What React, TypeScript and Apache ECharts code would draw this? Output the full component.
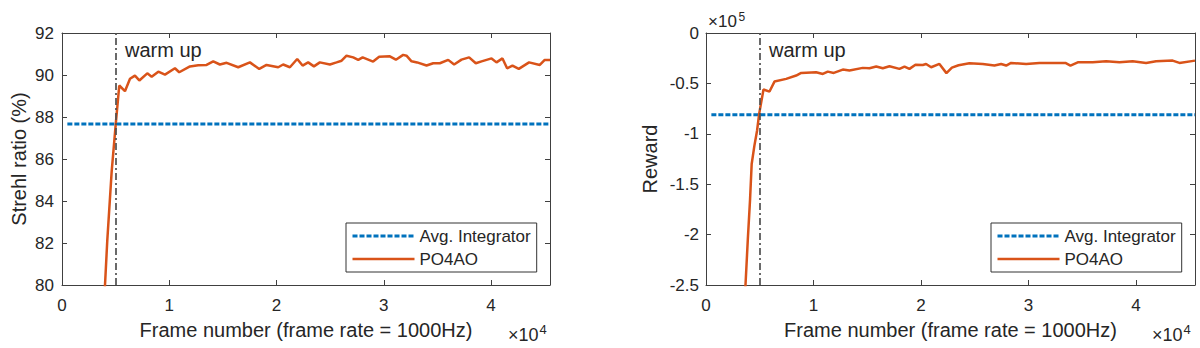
import React, { useEffect, useRef } from 'react';
import * as echarts from 'echarts';

// ---- data ----
const strehlFrames = [3700, 4010, 4220, 4630, 5000, 5340, 5870, 6340, 6800, 7210, 7950, 8360, 8980, 9600, 10530, 10930, 11930, 12700, 13480, 14100, 14720, 15350, 16430, 17520, 18390, 19070, 20160, 20620, 21250, 21930, 22430, 22950, 23490, 24040, 24980, 25600, 26070, 26530, 27150, 27620, 28030, 29010, 29570, 30570, 31130, 31810, 32120, 32590, 33110, 33990, 34610, 35230, 36010, 36560, 37250, 37960, 38580, 39120, 40050, 40510, 41070, 41500, 42000, 42590, 43550, 44550, 45010, 45500];
const strehlValues = [77.5, 80, 82.1, 85.4, 87.6, 89.5, 89.23, 89.82, 89.97, 89.74, 90.08, 89.92, 90.16, 90.02, 90.32, 90.13, 90.41, 90.46, 90.48, 90.65, 90.5, 90.58, 90.37, 90.6, 90.29, 90.48, 90.37, 90.5, 90.37, 90.76, 90.45, 90.6, 90.41, 90.6, 90.5, 90.6, 90.68, 90.92, 90.84, 90.72, 90.84, 90.64, 90.87, 90.89, 90.73, 90.96, 90.92, 90.65, 90.6, 90.45, 90.56, 90.56, 90.72, 90.5, 90.73, 90.84, 90.56, 90.65, 90.79, 90.6, 90.79, 90.32, 90.45, 90.29, 90.6, 90.48, 90.72, 90.72];

// reward values in units of 1e5
const rewardFrames = [3400, 3675, 3890, 4100, 4250, 4500, 4750, 4950, 5350, 5910, 6370, 7460, 8390, 8860, 10250, 10870, 11330, 11890, 12730, 13350, 14590, 15210, 15840, 16450, 17070, 18000, 18470, 18930, 19490, 20170, 20480, 20950, 21720, 22370, 22880, 23500, 24510, 25750, 26840, 27460, 27930, 28390, 29790, 31020, 32260, 33440, 33910, 34590, 35980, 37230, 38470, 39700, 40950, 41880, 43420, 44050, 45500];
const rewardValues = [-3.1, -2.5, -2.05, -1.65, -1.3, -1.12, -0.97, -0.8, -0.56, -0.581, -0.482, -0.455, -0.422, -0.396, -0.39, -0.406, -0.383, -0.396, -0.363, -0.373, -0.346, -0.35, -0.333, -0.35, -0.33, -0.356, -0.333, -0.356, -0.314, -0.317, -0.307, -0.34, -0.307, -0.398, -0.343, -0.32, -0.3, -0.307, -0.323, -0.307, -0.323, -0.297, -0.307, -0.297, -0.297, -0.297, -0.323, -0.291, -0.291, -0.281, -0.291, -0.281, -0.297, -0.281, -0.274, -0.297, -0.274];

const integratorFrames = [500, 45500];
const integratorStrehl = 87.67;
const integratorReward = -0.81;
const warmupFrame = 5000;
const frameMax = 45500;
const seriesNames = ['Avg. Integrator', 'PO4AO'];

const FONT = 'Liberation Sans, Arial, Helvetica, sans-serif';
const TEXT = '#262626';
const AXIS = '#404040';
const BLUE = '#0072BD';
const ORANGE = '#D95319';

function xAxes(gridIndex: number) {
  const common = {
    gridIndex,
    type: 'value' as const,
    min: 0,
    max: frameMax,
    interval: 10000,
    splitLine: { show: false },
    axisLine: { show: true, onZero: false, lineStyle: { color: AXIS, width: 1 } },
    axisTick: { show: true, inside: true, length: 5, lineStyle: { color: AXIS } },
  };
  return [
    {
      ...common,
      position: 'bottom',
      axisLabel: {
        fontSize: 17,
        color: TEXT,
        fontFamily: FONT,
        margin: 12,
        formatter: (v: number) => (v % 10000 === 0 ? String(v / 10000) : ''),
      },
      name: 'Frame number (frame rate = 1000Hz)',
      nameLocation: 'middle',
      nameGap: 35,
      nameTextStyle: { fontSize: 20, color: TEXT, fontFamily: FONT },
    },
    { ...common, position: 'top', axisLabel: { show: false } },
  ];
}

function yAxes(gridIndex: number, min: number, max: number, interval: number, name: string, nameGap: number, margin: number) {
  const common = {
    gridIndex,
    type: 'value' as const,
    min,
    max,
    interval,
    splitLine: { show: false },
    axisLine: { show: true, onZero: false, lineStyle: { color: AXIS, width: 1 } },
    axisTick: { show: true, inside: true, length: 5, lineStyle: { color: AXIS } },
  };
  return [
    {
      ...common,
      position: 'left',
      axisLabel: { fontSize: 17, color: TEXT, fontFamily: FONT, margin, formatter: (v: number) => String(v) },
      name,
      nameLocation: 'middle',
      nameGap,
      nameTextStyle: { fontSize: 20, color: TEXT, fontFamily: FONT },
    },
    { ...common, position: 'right', axisLabel: { show: false } },
  ];
}

function legend(left: number) {
  return {
    data: seriesNames,
    orient: 'vertical',
    left,
    top: 223,
    itemWidth: 62,
    itemHeight: 14,
    itemGap: 3,
    padding: [3, 6, 3, 5],
    borderColor: '#333',
    borderWidth: 1,
    backgroundColor: '#fff',
    selectedMode: false,
    itemStyle: { opacity: 0 },
    lineStyle: { width: 'inherit' },
    textStyle: { fontSize: 17, color: TEXT, fontFamily: FONT, lineHeight: 20 },
  };
}

function panelSeries(axisIndex: number, frames: number[], values: number[], avg: number) {
  return [
    {
      name: seriesNames[0],
      type: 'line',
      xAxisIndex: axisIndex,
      yAxisIndex: axisIndex,
      data: integratorFrames.map((f) => [f, avg]),
      symbol: 'none',
      lineStyle: { color: BLUE, width: 3, type: [5, 2] },
      itemStyle: { color: BLUE },
      emphasis: { disabled: true },
      z: 3,
    },
    {
      name: seriesNames[1],
      type: 'line',
      xAxisIndex: axisIndex,
      yAxisIndex: axisIndex,
      data: frames.map((f, i) => [f, values[i]]),
      symbol: 'none',
      clip: true,
      lineStyle: { color: ORANGE, width: 2.5 },
      itemStyle: { color: ORANGE },
      emphasis: { disabled: true },
      z: 4,
      markLine: {
        silent: true,
        symbol: ['none', 'none'],
        label: { show: false },
        lineStyle: { color: '#505050', width: 1.7, type: [7, 3, 2, 3] },
        data: [{ xAxis: warmupFrame }],
        emphasis: { disabled: true },
      },
    },
  ];
}

function txt(text: string, x: number, y: number, size: number, color = TEXT) {
  return {
    type: 'text',
    x,
    y,
    style: { text, fontSize: size, fontFamily: FONT, fill: color, verticalAlign: 'middle', align: 'left' },
    silent: true,
  };
}

export default function App() {
  const ref = useRef<HTMLDivElement>(null);
  useEffect(() => {
    if (!ref.current) return;
    const chart = echarts.init(ref.current, undefined, { renderer: 'svg' });
    chart.setOption({
      animation: false,
      backgroundColor: '#fff',
      textStyle: { fontFamily: FONT },
      grid: [
        { left: 62, top: 33, width: 488, height: 252 },
        { left: 706, top: 33, width: 489, height: 252 },
      ],
      xAxis: [...xAxes(0), ...xAxes(1)],
      yAxis: [
        ...yAxes(0, 80, 92, 2, 'Strehl ratio (%)', 33, 8),
        ...yAxes(1, -2.5, 0, 0.5, 'Reward', 46, 7),
      ],
      legend: [legend(346), legend(991)],
      series: [
        ...panelSeries(0, strehlFrames, strehlValues, integratorStrehl),
        ...panelSeries(2, rewardFrames, rewardValues, integratorReward),
      ],
      graphic: [
        txt('warm up', 125, 50, 20),
        txt('warm up', 769, 50, 20),
        txt('\u00d710', 508, 335, 18),
        txt('4', 539.5, 329, 13),
        txt('\u00d710', 1152, 335, 18),
        txt('4', 1183.5, 329, 13),
        txt('\u00d710', 708, 21, 17),
        txt('5', 738.5, 17, 12),
      ],
    });
    return () => chart.dispose();
  }, []);
  return <div ref={ref} style={{ position: 'absolute', left: 0, top: 0, width: 1200, height: 348 }} />;
}
